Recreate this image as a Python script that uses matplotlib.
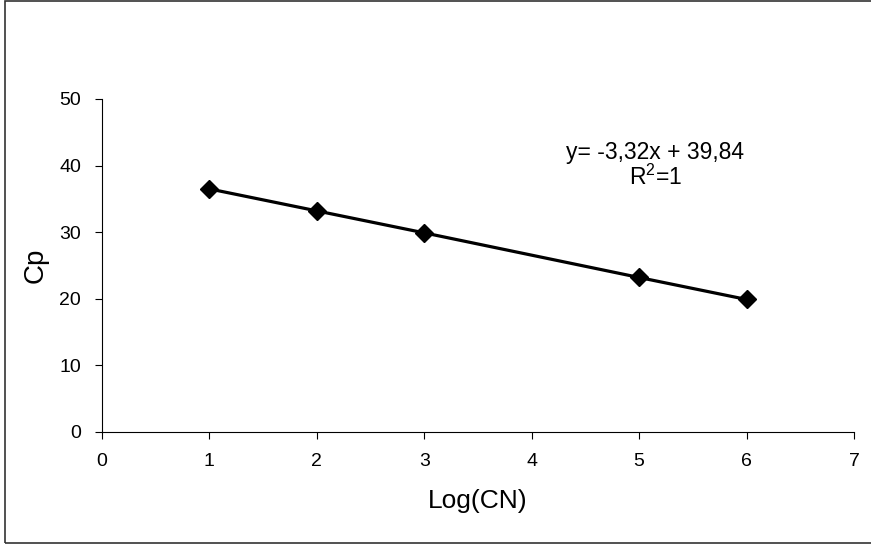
import matplotlib.pyplot as plt
from matplotlib.patches import Rectangle

plt.rcParams['font.family'] = ['Liberation Sans', 'DejaVu Sans']

log_cn = [1, 2, 3, 5, 6]
cp = [36.5, 33.2, 29.9, 23.2, 19.9]
x_ticks = [0, 1, 2, 3, 4, 5, 6, 7]
y_ticks = [0, 10, 20, 30, 40, 50]

fig = plt.figure(figsize=(8.71, 5.44), dpi=100)
ax = fig.add_axes([102/871, 112/544, 752/871, 333/544])

ax.plot(log_cn, cp, color='black', lw=2.3, marker='D', markersize=9,
        markerfacecolor='black', markeredgecolor='black')

ax.set_xlim(0, 7)
ax.set_ylim(0, 50)
ax.set_xticks(x_ticks)
ax.set_yticks(y_ticks)
ax.tick_params(labelsize=14, length=5, width=0.8, direction='out', pad=10)
ax.spines['top'].set_visible(False)
ax.spines['right'].set_visible(False)

ax.set_xlabel("Log(CN)", fontsize=19, labelpad=14)
ax.set_ylabel("Cp", fontsize=20, labelpad=8)

ax.text(5.15, 40.0, "y= -3,32x + 39,84\n$\\mathregular{R^2}$=1", fontsize=16.5,
        ha='center', va='center', linespacing=1.0)

# border around the whole picture
fig.patches.append(Rectangle((5/871, 1/544), 870/871, 542/544, transform=fig.transFigure,
                             fill=False, edgecolor='#333333', lw=1.2))

fig.savefig("out.png", dpi=100)
